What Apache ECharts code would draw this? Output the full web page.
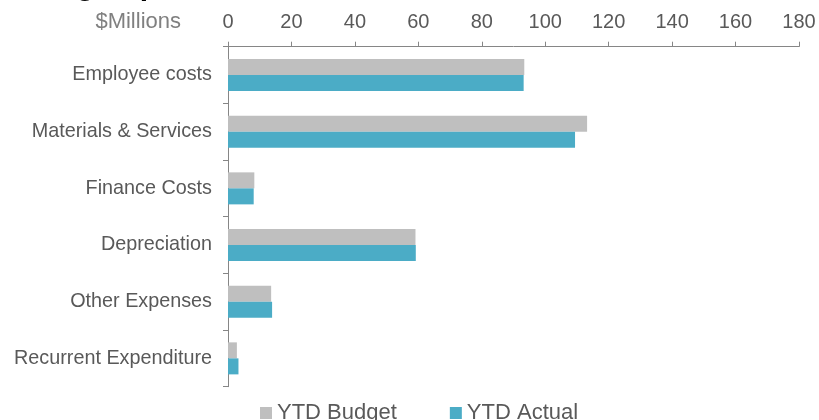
<!DOCTYPE html>
<html><head><meta charset="utf-8">
<script src="https://cdn.jsdelivr.net/npm/echarts@6/dist/echarts.min.js"></script>
<style>html,body{margin:0;padding:0;background:#fff}#c{width:819px;height:420px}</style>
</head><body><div id="c"></div>
<script>
var titleText = 'Operating Expenditure';
var unitLabel = '$Millions';
var categories = ['Employee costs','Materials & Services','Finance Costs','Depreciation','Other Expenses','Recurrent Expenditure'];
var seriesNames = ['YTD Budget','YTD Actual'];
var budget = [93.4, 113.2, 8.3, 59.1, 13.6, 2.8];
var actual = [93.2, 109.4, 8.1, 59.2, 13.9, 3.3];
var xTicks = {min: 0, max: 180, interval: 20};

var FONT = 'Liberation Sans, Arial, sans-serif';
var chart = echarts.init(document.getElementById('c'), null, {renderer: 'canvas'});
chart.setOption({
  animation: false,
  textStyle: {fontFamily: FONT},
  graphic: [
    {type: 'text', style: {text: titleText, x: -47, y: 2, font: 'bold 30px ' + FONT, fill: '#000', align: 'left', verticalAlign: 'bottom'}},
    {type: 'text', style: {text: unitLabel, x: 181, y: 22, font: '22px ' + FONT, fill: '#808080', align: 'right', verticalAlign: 'middle'}}
  ],
  grid: {left: 228, right: 20, top: 46.7, bottom: 33.3, containLabel: false},
  legend: {
    data: seriesNames, left: 255, top: 397, itemWidth: 12, itemHeight: 12, itemGap: 53, icon: 'rect',
    itemStyle: {borderWidth: 0},
    textStyle: {fontSize: 22, color: '#595959', fontFamily: FONT}
  },
  xAxis: {
    type: 'value', position: 'top', min: xTicks.min, max: xTicks.max, interval: xTicks.interval,
    axisLine: {show: true, lineStyle: {color: '#868686', width: 1}},
    axisTick: {show: true, length: 5, lineStyle: {color: '#868686'}},
    splitLine: {show: false},
    axisLabel: {fontSize: 20, color: '#595959', margin: 14, fontFamily: FONT}
  },
  yAxis: {
    type: 'category', data: categories, inverse: true,
    axisLine: {show: true, lineStyle: {color: '#868686', width: 1}},
    axisTick: {show: true, length: 5, lineStyle: {color: '#868686'}},
    axisLabel: {fontSize: 19.8, color: '#595959', margin: 16, fontFamily: FONT}
  },
  series: [
    {name: seriesNames[0], type: 'bar', data: budget, barGap: '0%', barCategoryGap: '43.5%',
     itemStyle: {color: '#BFBFBF'}},
    {name: seriesNames[1], type: 'bar', data: actual, barGap: '0%', barCategoryGap: '43.5%',
     itemStyle: {color: '#4BACC6'}}
  ]
});
</script></body></html>
